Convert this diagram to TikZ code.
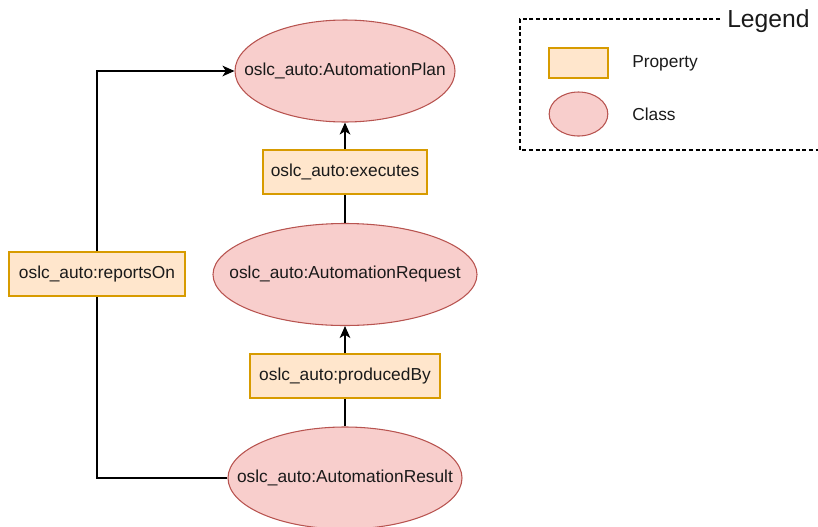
\documentclass[tikz,border=0pt]{standalone}
\usepackage{fontspec}
\setmainfont{Liberation Sans}
\usetikzlibrary{shapes.geometric,arrows.meta}
\definecolor{propfill}{HTML}{FFE6CC}
\definecolor{propline}{HTML}{D79B00}
\definecolor{classfill}{HTML}{F8CECC}
\definecolor{classline}{HTML}{B85450}
\definecolor{ink}{HTML}{1A1A1A}

\begin{document}
\begin{tikzpicture}[x=0.75pt,y=-0.75pt,
    prop/.style={draw=propline,fill=propfill,line width=1.1pt,minimum height=33pt,inner sep=0pt,text=ink,font=\fontsize{13}{15}\selectfont},
    cls/.style={ellipse,draw=classline,fill=classfill,line width=0.8pt,inner sep=0pt,text=ink,font=\fontsize{13}{15}\selectfont},
    link/.style={line width=1.1pt,-{Stealth[length=9pt,width=8pt,inset=2.5pt]}},
    plain/.style={line width=1.1pt}]
    \useasboundingbox (0,0) rectangle (818,526);

    % Classes
    \foreach \y/\name/\label/\w in {71/plan/AutomationPlan/165pt, 274.5/request/AutomationRequest/198pt, 478/result/AutomationResult/175.5pt}
        \node[cls, minimum width=\w, minimum height=76.5pt] (\name) at (345,\y) {\makebox[0pt]{oslc\_auto:\label}};

    % Properties
    \node[prop, minimum width=123pt] (executes) at (345,172) {oslc\_auto:executes};
    \node[prop, minimum width=142.5pt] (producedby) at (345,376) {oslc\_auto:producedBy};
    \node[prop, minimum width=132pt] (reportson) at (97,274) {oslc\_auto:reportsOn};

    % Links
    \draw[plain] (request.north) -- (executes.south);
    \draw[link] (executes.north) -- (plan.south);
    \draw[plain] (result.north) -- (producedby.south);
    \draw[link] (producedby.north) -- (request.south);
    \draw[plain] (result.west) -| (reportson.south);
    \draw[link] (reportson.north) |- (plan.west);

    % Legend
    \node[font=\fontsize{18.5}{21}\selectfont, anchor=west, inner sep=0pt, text=ink] (legend) at (727,21) {Legend};
    \draw[line width=0.8pt, dash pattern=on 3pt off 2pt] (legend.west) ++(-7,-2) -- (520,19) -- (520,150) -- (818,150);
    \node[prop, minimum width=44pt, minimum height=22.5pt] (propkey) at (578.5,63) {};
    \node[cls, minimum width=44pt, minimum height=33pt] (classkey) at (578.5,114) {};
    \node[anchor=west, inner sep=0pt, text=ink, font=\fontsize{13}{15}\selectfont] (proptext) at (632,63) {Property};
    \node[anchor=west, inner sep=0pt, text=ink, font=\fontsize{13}{15}\selectfont] (classtext) at (632,114) {Class};
\end{tikzpicture}
\end{document}
